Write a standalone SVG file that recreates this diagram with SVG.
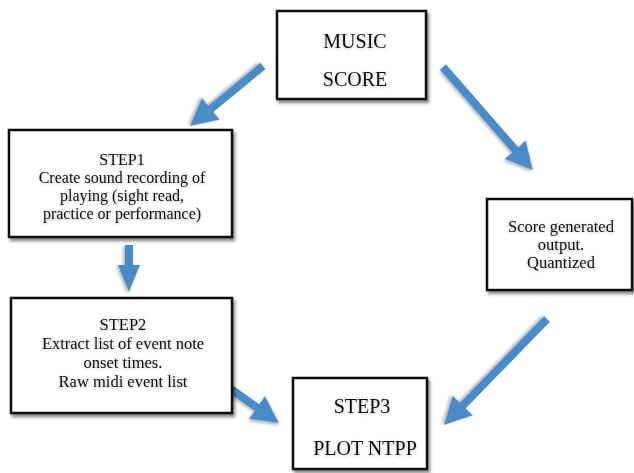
<svg xmlns="http://www.w3.org/2000/svg" width="634" height="473" viewBox="0 0 634 473">
<defs>
<filter id="sh" x="-10%" y="-10%" width="130%" height="130%">
<feDropShadow dx="2" dy="3" stdDeviation="1.8" flood-color="#000" flood-opacity="0.45"/>
</filter>
<filter id="ash" x="-20%" y="-20%" width="140%" height="140%">
<feDropShadow dx="1" dy="2" stdDeviation="1.5" flood-color="#000" flood-opacity="0.3"/>
</filter>
<filter id="tg" x="-10%" y="-30%" width="120%" height="160%">
<feDropShadow dx="0" dy="1" stdDeviation="1.5" flood-color="#000" flood-opacity="0.25"/>
</filter>
</defs>
<style>
.box{fill:#fff;stroke:#111;stroke-width:2.5;filter:url(#sh)}
.t{font-family:"Liberation Serif","Times New Roman",serif;font-size:16.5px;fill:#111;text-anchor:middle;filter:url(#tg)}
.s1{font-size:16px}
.big{font-size:20px}
.arr{fill:#4a8bc8;filter:url(#ash)}
</style>
<rect width="634" height="473" fill="#fff"/>
<g id="connectors">
<path class="arr" transform="translate(263,66) rotate(140.6)" d="M0,-4 L67.5,-4 L67.5,-14 L94.5,0 L67.5,14 L67.5,4 L0,4 Z"/>
<path class="arr" transform="translate(443,67) rotate(48.9)" d="M0,-4 L109.8,-4 L109.8,-14 L136.8,0 L109.8,14 L109.8,4 L0,4 Z"/>
<path class="arr" transform="translate(129,245) rotate(90)" d="M0,-4 L20,-4 L20,-11 L47,0 L20,11 L20,4 L0,4 Z"/>
<path class="arr" transform="translate(218,380) rotate(35.2)" d="M0,-4 L47.6,-4 L47.6,-14 L74.6,0 L47.6,14 L47.6,4 L0,4 Z"/>
<path class="arr" transform="translate(547,319) rotate(134.2)" d="M0,-4 L120.8,-4 L120.8,-14 L147.8,0 L120.8,14 L120.8,4 L0,4 Z"/>
</g>
<g id="music-score">
<rect class="box" x="277" y="11" width="149" height="88"/>
<text class="t big" x="355" y="48">MUSIC</text>
<text class="t big" x="355" y="86">SCORE</text>
</g>
<g id="step1">
<rect class="box" x="9" y="130" width="223" height="107"/>
<text class="t s1" x="122" y="165">STEP1</text>
<text class="t s1" x="122" y="183">Create sound recording of</text>
<text class="t s1" x="122" y="201">playing (sight read,</text>
<text class="t s1" x="122" y="219">practice or performance)</text>
</g>
<g id="step2">
<rect class="box" x="11" y="298" width="221" height="115"/>
<text class="t" x="123" y="330">STEP2</text>
<text class="t" x="123" y="349">Extract list of event note</text>
<text class="t" x="123" y="368">onset times.</text>
<text class="t" x="123" y="387">Raw midi event list</text>
</g>
<g id="score-output">
<rect class="box" x="487" y="199" width="145" height="91"/>
<text class="t" x="561" y="232">Score generated</text>
<text class="t" x="561" y="250">output.</text>
<text class="t" x="561" y="268">Quantized</text>
</g>
<g id="step3">
<rect class="box" x="293" y="378" width="134" height="91"/>
<text class="t big" x="362" y="413">STEP3</text>
<text class="t big" x="365" y="455">PLOT NTPP</text>
</g>
</svg>
